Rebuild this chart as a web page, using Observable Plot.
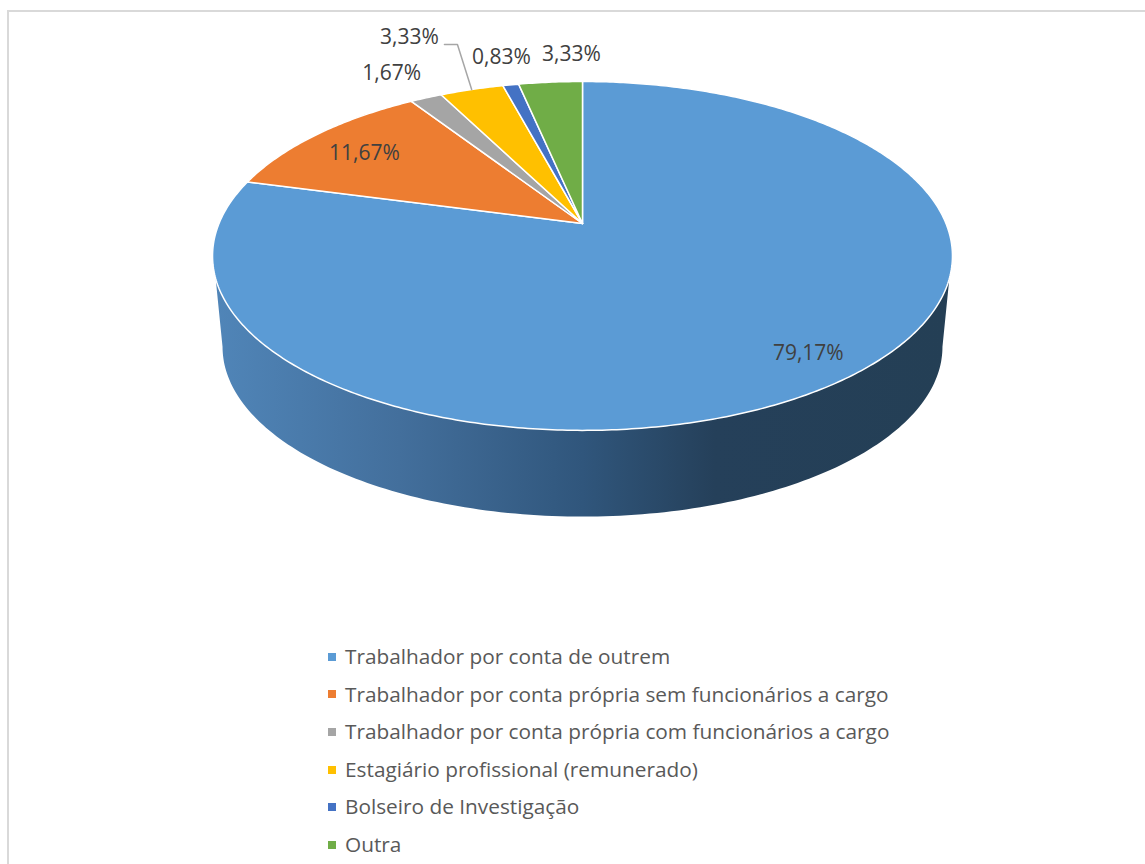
<!DOCTYPE html>
<html lang="pt">
<head>
<meta charset="utf-8">
<title>Situação profissional</title>
<script src="https://cdn.jsdelivr.net/npm/d3@7"></script>
<script src="https://cdn.jsdelivr.net/npm/@observablehq/plot@0.6"></script>
<style>
  html, body { margin: 0; padding: 0; background: #fff; overflow: hidden; }
  #frame { position: absolute; left: 7px; top: 10px; width: 1138px; height: 854px;
           border-left: 2px solid #d9d9d9; border-top: 2px solid #d9d9d9; box-sizing: border-box; }
  #chart { position: absolute; left: 0; top: 0; }
  #chart svg { display: block; background: transparent; }
  #legend { position: absolute; left: 328px; top: 638px; font-family: "Open Sans", sans-serif;
            font-size: 20.8px; color: #595959; }
  #legend div { height: 37.6px; line-height: 37.6px; white-space: nowrap; display: flex; align-items: center; }
  #legend i { width: 8px; height: 8px; margin-right: 9px; display: inline-block; flex: none; }
</style>
</head>
<body>
<div id="frame"></div>
<div id="chart"></div>
<div id="legend"></div>
<script>
const categories = [
  "Trabalhador por conta de outrem",
  "Trabalhador por conta própria sem funcionários a cargo",
  "Trabalhador por conta própria com funcionários a cargo",
  "Estagiário profissional (remunerado)",
  "Bolseiro de Investigação",
  "Outra"
];
const values = [79.17, 11.67, 1.67, 3.33, 0.83, 3.33];
const labels = ["79,17%", "11,67%", "1,67%", "3,33%", "0,83%", "3,33%"];
const colors = ["#5b9bd5", "#ed7d31", "#a5a5a5", "#ffc000", "#4472c4", "#70ad47"];

// Label placement: radial factor from the apex, then pixel nudges
const labelRadius = [0.887, 0.807, 1.265, 1.717, 1.156, 1.15];
const labelDx = [0, 0, 0, -1, 0, 25];
const labelDy = [-7, 3, 3, 22, -9.5, -10];

// Perspective view of the disc: k is foreshortening, depth the lower rim
const k = 0.186;
const lowerScale = 0.973;
const lowerDrop = 0.545;
const total = d3.sum(values);

function project(theta, r = 1, depth = false) {
  const u = Math.sin(theta) * r, v = Math.cos(theta) * r, d = 1 + k * v;
  const s = depth ? lowerScale : 1;
  return {X: s * u / d, Y: s * v / d - (depth ? lowerDrop : 0)};
}

const cum = d3.cumsum(values);
const slices = values.map((v, i) => {
  const a0 = ((cum[i] - v) / total) * 2 * Math.PI;
  const a1 = (cum[i] / total) * 2 * Math.PI;
  return {name: categories[i], a0, a1, mid: (a0 + a1) / 2};
});

const slicePts = slices.flatMap(s => {
  const n = Math.max(4, Math.ceil((s.a1 - s.a0) * 90));
  const pts = [{...project(0, 0), name: s.name}];
  d3.range(n + 1).forEach(j => pts.push({...project(s.a0 + (s.a1 - s.a0) * j / n), name: s.name}));
  pts.push({...project(0, 0), name: s.name});
  return pts;
});

// Visible wall of the disc
const tangentTop = Math.acos(-0.3079), tangentLow = Math.acos(-k);
const wall = [project(tangentTop)];
d3.range(161).forEach(j => {
  const t = tangentLow + (2 * Math.PI - 2 * tangentLow) * j / 160;
  wall.push(project(t, 1, true));
});
wall.push(project(2 * Math.PI - tangentTop));
wall.push(wall[0]);

const pxX = 363.5, pxY = 168.4;
const labelRows = slices.map((s, i) => {
  const p = project(s.mid, labelRadius[i]);
  return {...p, text: labels[i], dx: labelDx[i], dy: labelDy[i]};
});

// Leader for the 3,33% yellow slice
const yl = labelRows[3];
const ylY = yl.Y - yl.dy / pxY;
const leader = [
  {X: yl.X + 34 / pxX, Y: ylY - 7 / pxY},
  {X: yl.X + 47 / pxX, Y: ylY - 7 / pxY},
  project(slices[3].mid)
];

const gradient = () => d3.create("svg:defs").html(`
  <linearGradient id="wallGrad" x1="0" x2="1" y1="0" y2="0">
    <stop offset="0" stop-color="#5085b8"/>
    <stop offset="0.25" stop-color="#436f9c"/>
    <stop offset="0.5" stop-color="#30567c"/>
    <stop offset="0.68" stop-color="#25405a"/>
    <stop offset="1" stop-color="#243f55"/>
  </linearGradient>`).node();

const chart = Plot.plot({
  width: 1145,
  height: 640,
  margin: 0,
  style: {background: "transparent"},
  x: {domain: [-1, 1], range: [582 - pxX, 582 + pxX], axis: null},
  y: {domain: [-1, 1], range: [223 + pxY, 223 - pxY], axis: null},
  color: {type: "ordinal", domain: categories, range: colors},
  marks: [
    gradient,
    Plot.line(wall, {x: "X", y: "Y", fill: "url(#wallGrad)", stroke: "none"}),
    Plot.line(slicePts, {x: "X", y: "Y", z: "name", fill: "name", stroke: "white",
                         strokeWidth: 1.5, strokeLinejoin: "round"}),
    Plot.line(leader, {x: "X", y: "Y", stroke: "#a6a6a6", strokeWidth: 1.5}),
    ...labelRows.map(d => Plot.text([d], {
      x: "X", y: "Y", text: "text", dx: d.dx, dy: d.dy,
      fontFamily: "Open Sans, sans-serif", fontSize: 21, fill: "#404040"
    }))
  ]
});
document.getElementById("chart").append(chart);

d3.select("#legend").selectAll("div").data(categories).join("div")
  .html((d, i) => `<i style="background:${colors[i]}"></i><span>${d}</span>`);
</script>
</body>
</html>
